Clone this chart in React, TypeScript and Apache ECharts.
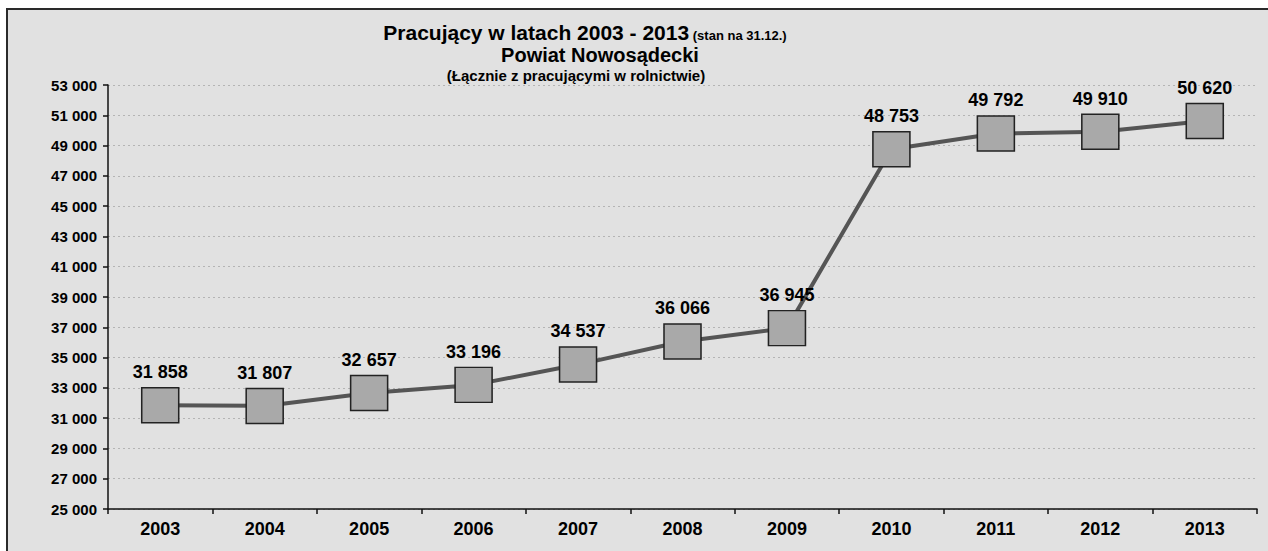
import React, { useEffect, useRef } from "react";
import * as echarts from "echarts";

const categories = ["2003", "2004", "2005", "2006", "2007", "2008", "2009", "2010", "2011", "2012", "2013"];
const values = [31858, 31807, 32657, 33196, 34537, 36066, 36945, 48753, 49792, 49910, 50620];
const titleLine1 = "Pracujący w latach 2003 - 2013";
const titleLine1Small = "(stan na 31.12.)";
const titleLine2 = "Powiat Nowosądecki";
const titleLine3 = "(Łącznie z pracującymi w rolnictwie)";

const fmt = (v: number) => {
  const s = String(Math.round(v));
  return s.replace(/\B(?=(\d{3})+(?!\d))/g, " ");
};

const FONT = "'Liberation Sans', Arial, sans-serif";

export default function App() {
  const ref = useRef<HTMLDivElement>(null);
  useEffect(() => {
    if (!ref.current) return;
    const chart = echarts.init(ref.current, null, { renderer: "svg" });
    chart.setOption({
      animation: false,
      backgroundColor: "#ffffff",
      textStyle: { fontFamily: FONT },
      graphic: [
        {
          type: "rect",
          z: -10,
          silent: true,
          shape: { x: 7, y: 9, width: 1275, height: 560 },
          style: { fill: "#e1e1e1", stroke: "#2a2a2a", lineWidth: 2 },
        },
        {
          type: "text",
          x: 585,
          y: 31,
          style: {
            text: "{a|" + titleLine1 + "}{b| " + titleLine1Small + "}",
            align: "center",
            verticalAlign: "middle",
            rich: {
              a: { fontFamily: FONT, fontWeight: "bold", fontSize: 21, lineHeight: 24, fill: "#000", verticalAlign: "bottom" },
              b: { fontFamily: FONT, fontWeight: "bold", fontSize: 13, lineHeight: 24, fill: "#000", verticalAlign: "bottom", padding: [0, 0, 1, 0] },
            },
          },
        },
        {
          type: "text",
          x: 600,
          y: 55,
          style: {
            text: titleLine2,
            align: "center",
            verticalAlign: "middle",
            fontFamily: FONT,
            fontWeight: "bold",
            fontSize: 20,
            fill: "#000",
          },
        },
        {
          type: "text",
          x: 576,
          y: 75,
          style: {
            text: titleLine3,
            align: "center",
            verticalAlign: "middle",
            fontFamily: FONT,
            fontWeight: "bold",
            fontSize: 15,
            fill: "#000",
          },
        },
      ],
      grid: { left: 108, right: 11, top: 85, bottom: 42, containLabel: false },
      xAxis: {
        type: "category",
        data: categories,
        boundaryGap: true,
        axisLine: { show: true, lineStyle: { color: "#111", width: 1.5 } },
        axisTick: { show: true, alignWithLabel: false, length: 5, lineStyle: { color: "#111", width: 1.5 } },
        axisLabel: { fontFamily: FONT, fontWeight: "bold", fontSize: 18, color: "#000", margin: 11 },
        splitLine: { show: false },
      },
      yAxis: {
        type: "value",
        min: 25000,
        max: 53000,
        interval: 2000,
        axisLine: { show: true, lineStyle: { color: "#111", width: 1.5 } },
        axisTick: { show: true, length: 5, lineStyle: { color: "#111", width: 1.5 } },
        axisLabel: {
          fontFamily: FONT,
          fontWeight: "bold",
          fontSize: 15,
          color: "#000",
          margin: 11,
          formatter: (v: number) => fmt(v),
        },
        splitLine: { show: true, lineStyle: { color: "#b4b4b4", type: [2, 3], width: 1 } },
      },
      series: [
        {
          type: "line",
          data: values,
          symbol: "rect",
          symbolSize: [37, 35],
          lineStyle: { color: "#555555", width: 4 },
          itemStyle: { color: "#a9a9a9", borderColor: "#222", borderWidth: 1.5 },
          label: {
            show: true,
            position: "top",
            distance: 6,
            fontFamily: FONT,
            fontWeight: "bold",
            fontSize: 18,
            color: "#000",
            formatter: (p: any) => fmt(p.value),
          },
        },
      ],
    });
    return () => chart.dispose();
  }, []);
  return (
    <div
      ref={ref}
      style={{ position: "fixed", left: 0, top: 0, width: 1268, height: 551 }}
    />
  );
}
